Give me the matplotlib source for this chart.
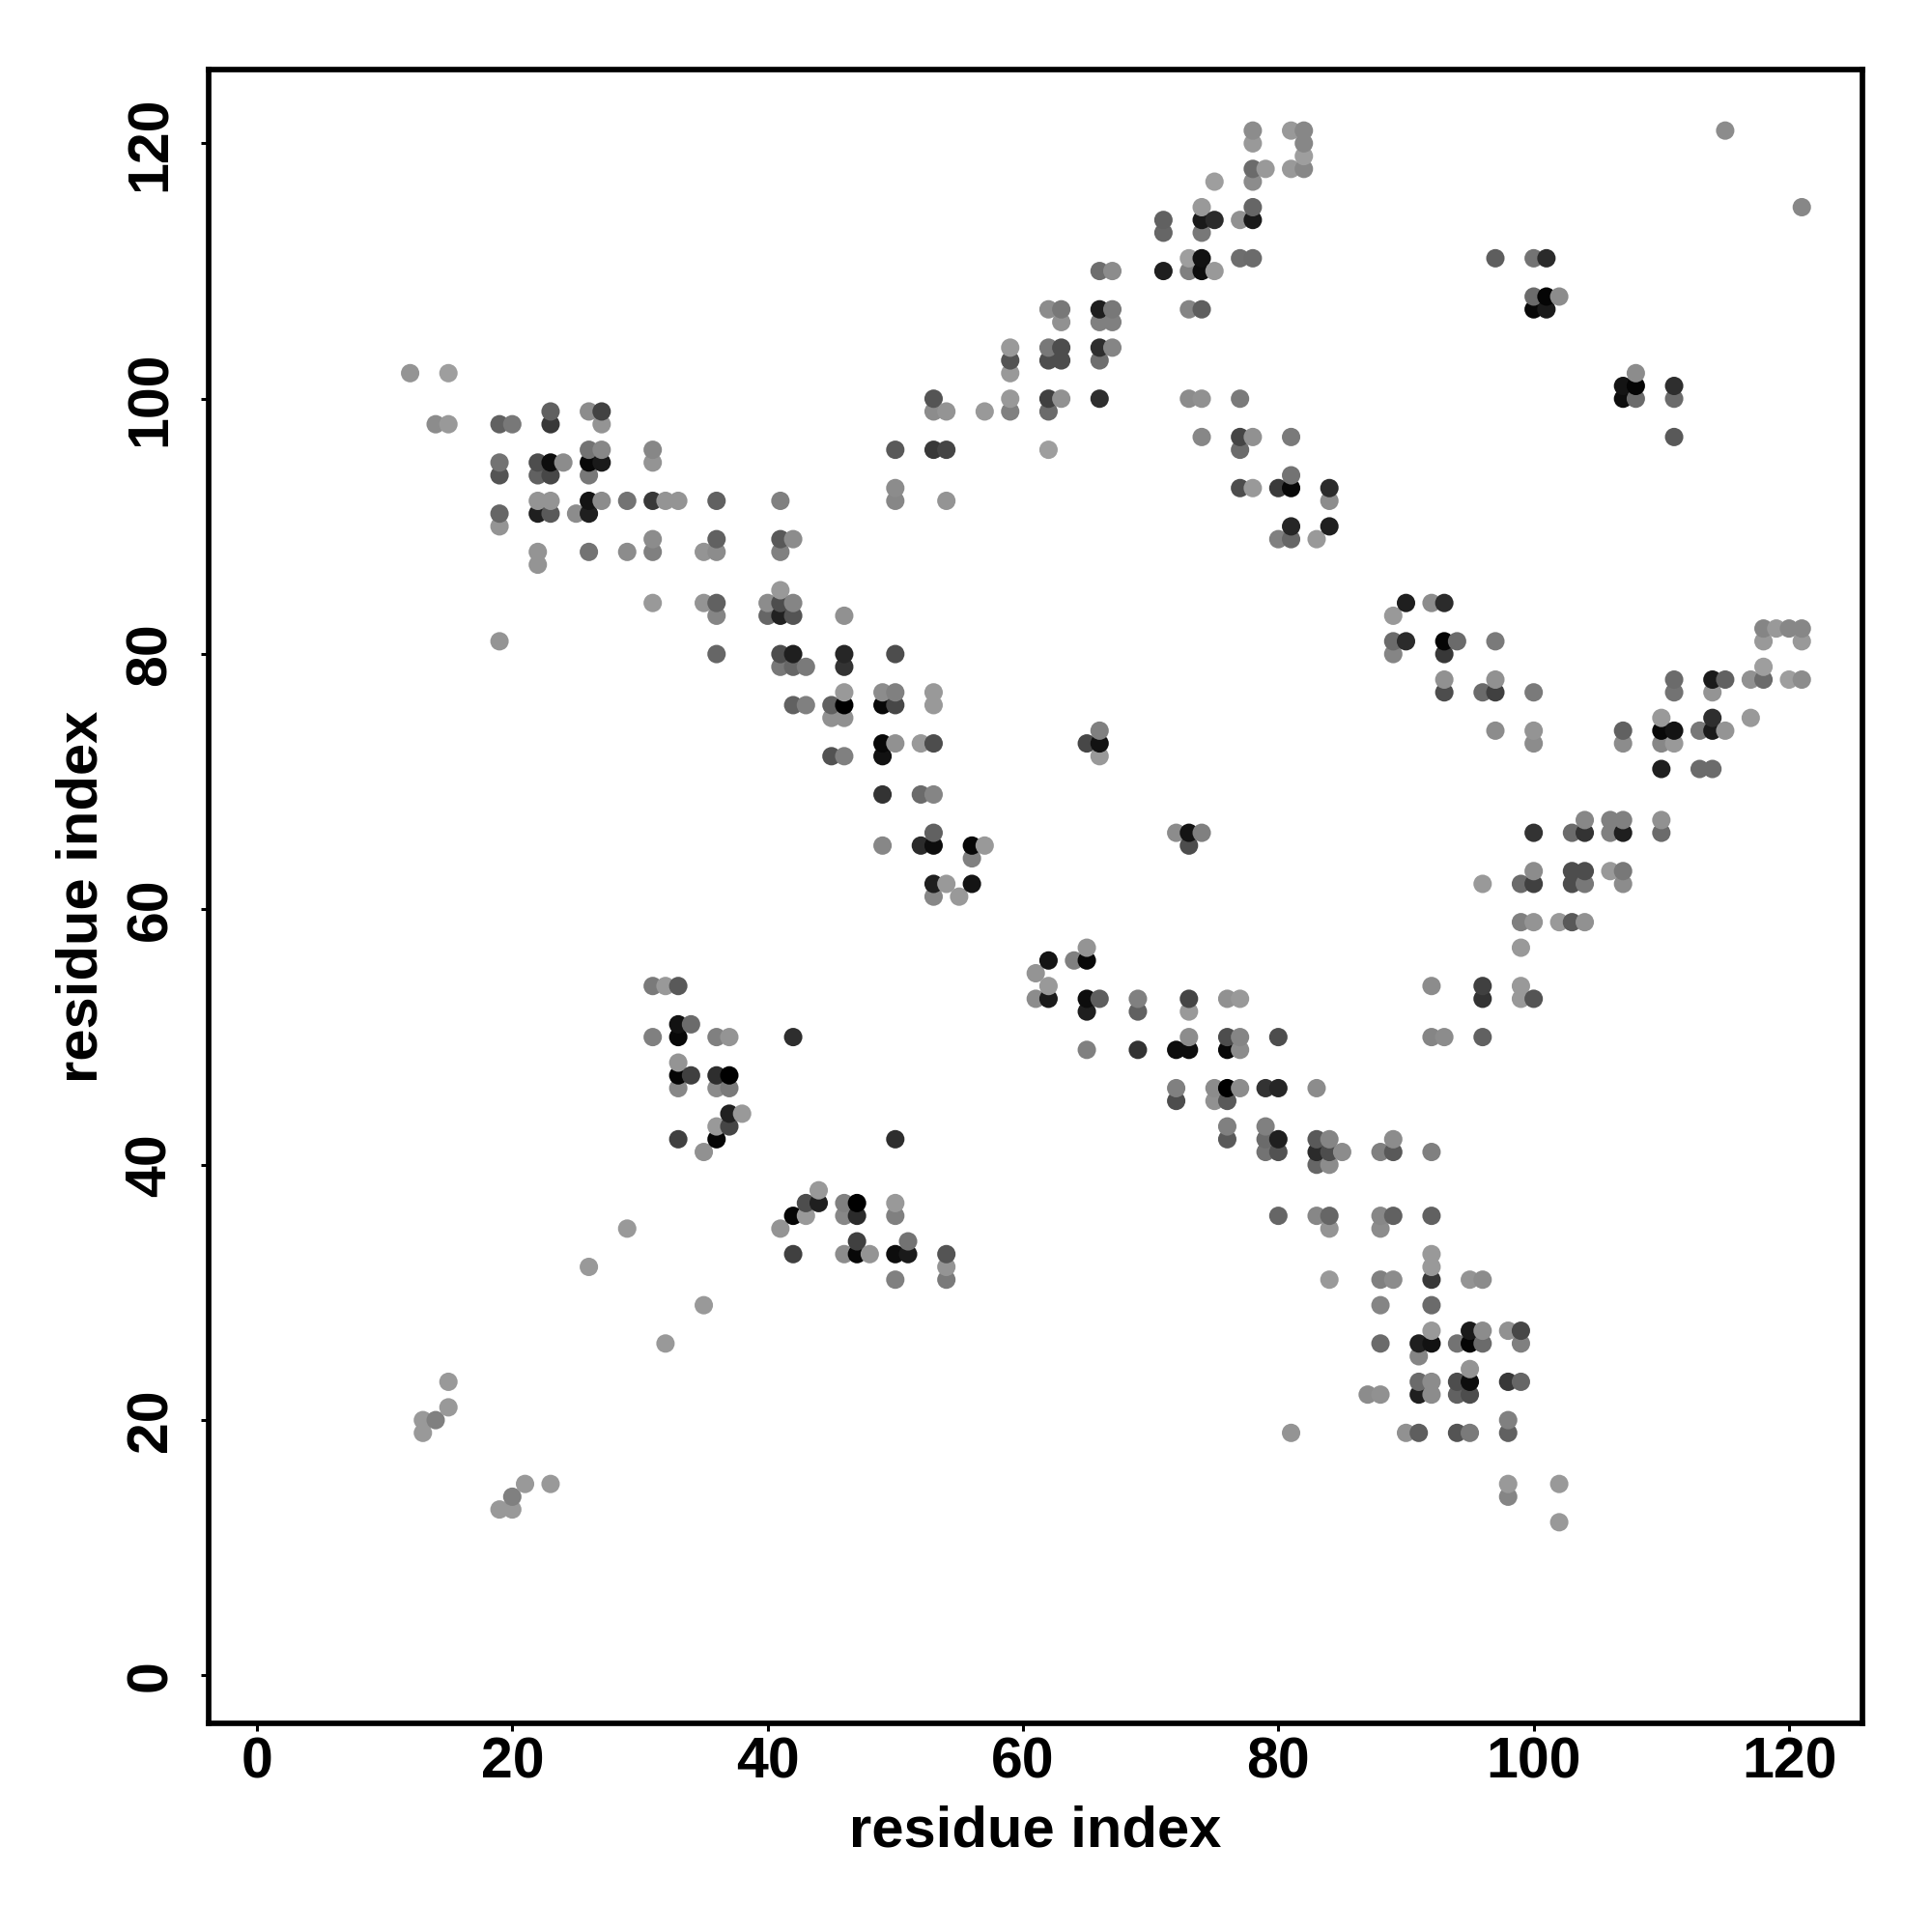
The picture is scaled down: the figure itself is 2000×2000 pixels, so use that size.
import matplotlib
matplotlib.use('Agg')
import matplotlib.pyplot as plt

# contact map values, one entry per row (y residue)
rows = [121, 120, 119, 118, 117, 115, 114, 113, 111, 110,
        108, 107, 106, 104, 103, 102, 101, 100, 99, 98,
        97, 96, 95, 94, 93, 92, 91, 90, 89, 88,
        87, 85, 84, 83, 82, 81, 80, 79, 78, 77,
        76, 75, 74, 73, 72, 71, 69, 67, 66, 65,
        64, 63, 62, 61, 59, 57, 56, 55, 54, 53,
        52, 51, 50, 49, 48, 47, 46, 45, 44, 43,
        42, 41, 40, 38, 37, 36, 35, 34, 33, 32,
        31, 29, 27, 26, 25, 24, 23, 22, 21, 20,
        19, 15, 14, 13, 12]

row_x = [
    [78, 81, 82, 115], [78, 82], [82], [78, 79, 81, 82], [75, 78],
    [74, 78, 121], [71, 74, 75, 77, 78], [71, 74],
    [73, 74, 77, 78, 97, 100, 101], [66, 67, 71, 73, 74, 75],
    [100, 101, 102], [62, 63, 66, 67, 73, 74, 100, 101], [63, 66, 67],
    [59, 62, 63, 66, 67], [59, 62, 63, 66], [12, 15, 59, 108], [107, 108, 111],
    [53, 59, 62, 63, 66, 73, 74, 77, 107, 108, 111],
    [23, 26, 27, 53, 54, 57, 59, 62], [14, 15, 19, 20, 23, 27],
    [74, 77, 78, 81, 111], [26, 27, 31, 50, 53, 54, 62, 77],
    [19, 22, 23, 24, 26, 27, 31], [19, 22, 23, 26, 81],
    [50, 77, 78, 80, 81, 84],
    [22, 23, 26, 27, 29, 31, 32, 33, 36, 41, 50, 54, 84],
    [19, 22, 23, 25, 26], [19, 81, 84], [31, 36, 41, 42, 80, 81, 83],
    [22, 26, 29, 31, 35, 36, 41], [22], [41],
    [31, 35, 36, 40, 41, 42, 90, 92, 93], [36, 40, 41, 42, 46, 89],
    [118, 119, 120, 121], [19, 89, 90, 93, 94, 97, 118, 121],
    [36, 41, 42, 46, 50, 89, 93], [41, 42, 43, 46, 118],
    [93, 97, 111, 114, 115, 117, 118, 120, 121],
    [46, 49, 50, 53, 93, 96, 97, 100, 111, 114],
    [42, 43, 45, 46, 49, 50, 53], [45, 46, 110, 114, 117],
    [66, 97, 100, 107, 110, 111, 113, 114, 115],
    [49, 50, 52, 53, 65, 66, 100, 107, 110, 111], [45, 46, 49, 66],
    [110, 113, 114], [49, 52, 53], [104, 106, 107, 110],
    [53, 72, 73, 74, 100, 103, 104, 106, 107, 110],
    [49, 52, 53, 56, 57, 73], [56], [100, 103, 104, 106, 107],
    [53, 54, 56, 96, 99, 100, 103, 104, 107], [53, 55],
    [99, 100, 102, 103, 104], [65, 99], [62, 64, 65], [61],
    [31, 32, 33, 62, 92, 96, 99],
    [61, 62, 65, 66, 69, 73, 76, 77, 96, 99, 100], [65, 69, 73], [33, 34],
    [31, 33, 36, 37, 42, 73, 76, 77, 80, 92, 93, 96],
    [65, 69, 72, 73, 76, 77], [33], [33, 34, 36, 37],
    [33, 36, 37, 72, 75, 76, 77, 79, 80, 83], [72, 75, 76], [37, 38],
    [36, 37, 76, 79], [33, 36, 50, 76, 79, 80, 83, 84, 89],
    [35, 79, 80, 83, 84, 85, 88, 89, 92], [83, 84], [44],
    [43, 44, 46, 47, 50], [42, 43, 46, 47, 50, 80, 83, 84, 88, 89, 92],
    [29, 41, 84, 88], [47, 51], [42, 46, 47, 48, 50, 51, 54, 92],
    [26, 54, 92], [50, 54, 84, 88, 89, 92, 95, 96], [35, 88, 92],
    [92, 95, 96, 98, 99], [32, 88, 91, 92, 94, 95, 96, 99], [91], [95],
    [15, 91, 92, 94, 95, 98, 99], [87, 88, 91, 92, 94, 95], [15],
    [13, 14, 98], [13, 81, 90, 91, 94, 95, 98], [21, 23, 98, 102],
    [20, 98], [19, 20], [102],
]

row_shade = [
    [.55, .6, .53, .55], [.6, .53], [.62], [.42, .6, .6, .53], [.62, .55],
    [.6, .4, .53], [.38, .1, .17, .57, .1], [.4, .47],
    [.62, .07, .43, .42, .37, .45, .17], [.43, .55, .12, .5, .05, .6],
    [.42, .02, .55], [.55, .47, .12, .47, .52, .37, .03, .1], [.57, .5, .5],
    [.6, .47, .3, .18, .52], [.33, .3, .3, .43], [.58, .62, .6, .55], [.08, .02, .18],
    [.33, .6, .25, .57, .18, .55, .57, .48, .05, .42, .42],
    [.38, .55, .26, .55, .58, .6, .5, .42], [.55, .6, .38, .47, .22, .58],
    [.53, .27, .57, .48, .35], [.45, .53, .53, .35, .22, .27, .62, .42],
    [.45, .3, .05, .55, .03, .1, .58], [.33, .38, .28, .47, .45],
    [.55, .3, .6, .23, .03, .17],
    [.58, .58, .08, .55, .45, .22, .58, .58, .38, .5, .53, .58, .55],
    [.4, .12, .35, .55, .12], [.58, .15, .12], [.55, .38, .35, .55, .5, .4, .6],
    [.58, .45, .55, .5, .58, .55, .5], [.58], [.6],
    [.6, .58, .38, .55, .3, .52, .12, .55, .17], [.52, .4, .13, .33, .57, .6],
    [.52, .6, .53, .53], [.58, .42, .17, .02, .42, .48, .6, .6],
    [.4, .3, .12, .15, .3, .52, .22], [.47, .4, .48, .2, .62],
    [.57, .57, .42, .1, .38, .57, .42, .62, .55],
    [.6, .55, .5, .6, .3, .42, .25, .48, .45, .58],
    [.38, .5, .38, 0, .03, .28, .6], [.57, .57, .6, .18, .6],
    [.5, .55, .58, .38, .03, .08, .47, .1, .58],
    [.03, .57, .6, .3, .28, .07, .55, .55, .53, .6], [.32, .5, .07, .6],
    [.12, .42, .42], [.2, .42, .52], [.53, .5, .5, .57],
    [.38, .55, .08, .5, .2, .42, .2, .5, .12, .42],
    [.53, .17, .05, .03, .6, .3], [.5], [.55, .3, .3, .6, .47],
    [.12, .6, .08, .6, .42, .25, .3, .47, .55], [.53, .6],
    [.5, .58, .6, .35, .57], [.58, .6], [.08, .5, .03], [.58],
    [.48, .6, .35, .6, .55, .25, .6],
    [.55, .1, .05, .37, .5, .27, .57, .6, .2, .6, .33], [.12, .38, .6], [.07, .42],
    [.5, .03, .5, .58, .18, .55, .3, .52, .3, .52, .55, .38],
    [.5, .2, .05, .05, .03, .55], [.58], [.02, .25, .18, 0],
    [.53, .55, .48, .5, .55, 0, .55, .2, .15, .55], [.3, .57, .35], [.13, .6],
    [.6, .27, .5, .5], [.25, .02, .18, .35, .42, .12, .35, .52, .55],
    [.57, .45, .32, .17, .3, .55, .5, .35, .5], [.4, .55], [.6],
    [.3, .12, .5, 0, .6], [.02, .6, .53, .17, .5, .4, .53, .4, .53, .38, .38],
    [.6, .58, .58, .55], [.25, .45], [.25, .55, .03, .58, .05, .1, .33, .6],
    [.6, .58, .6], [.5, .48, .6, .5, .55, .22, .58, .55], [.6, .52, .42],
    [.6, .1, .55, .57, .28], [.6, .42, .12, .07, .45, .02, .42, .5], [.52], [.58],
    [.6, .42, .55, .3, .05, .22, .4], [.55, .57, .12, .55, .38, .3], [.6],
    [.6, .5, .5], [.6, .58, .57, .37, .33, .48, .38], [.6, .6, .6, .6],
    [.5, .52], [.6, .6], [.6],
]

tick_values = [0, 20, 40, 60, 80, 100, 120]
axis_label = 'residue index'

# flatten rows, later residues are painted on top
points = []
for y, xs, shades in zip(rows, row_x, row_shade):
    for x, s in zip(xs, shades):
        points.append((x, y, s))
points.sort(key=lambda p: (p[0], p[1]))

plt.rcParams['font.family'] = ['Liberation Sans', 'DejaVu Sans']
plt.rcParams['font.weight'] = 'bold'

fig = plt.figure(figsize=(20, 20), dpi=100)
ax = fig.add_axes([216 / 2000, 216 / 2000, 1712 / 2000, 1712 / 2000])

ax.scatter([p[0] for p in points], [p[1] for p in points],
           c=[str(p[2]) for p in points], s=188, linewidths=0, zorder=3)

ax.set_xlim(-3.78, 125.75)
ax.set_ylim(-3.75, 125.78)
ax.set_xticks(tick_values)
ax.set_yticks(tick_values)
ax.tick_params(axis='x', length=6, width=2.2, labelsize=42.5, pad=4)
ax.tick_params(axis='y', length=6, width=2.2, labelsize=42.5, pad=17)
for label in ax.get_yticklabels():
    label.set_rotation(90)
    label.set_va('center')

for spine in ax.spines.values():
    spine.set_linewidth(4.1)

ax.set_xlabel(axis_label, fontsize=43, fontweight='bold', labelpad=11)
ax.set_ylabel(axis_label, fontsize=43, fontweight='bold', labelpad=12)

fig.savefig('out.png', dpi=100, facecolor='white')
